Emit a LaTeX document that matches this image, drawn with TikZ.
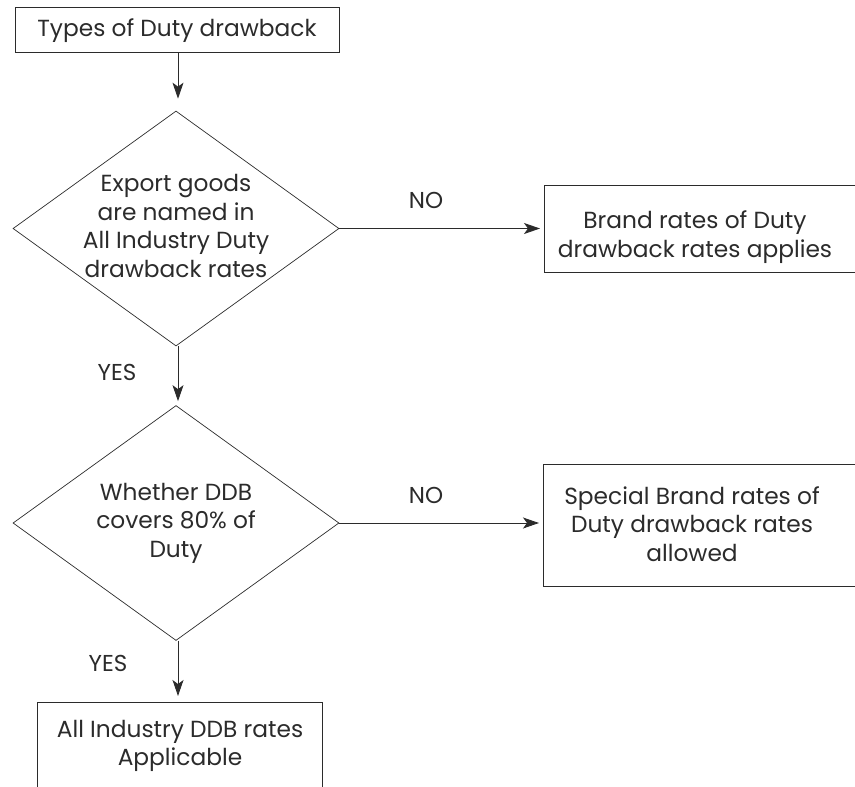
\documentclass[tikz,border=0pt]{standalone}
\usepackage{fontspec}
\setmainfont{Poppins}
\usetikzlibrary{arrows.meta,positioning,shapes.geometric}
\definecolor{ink}{HTML}{2B2B2B}
\tikzset{
  >=Stealth,
  box/.style={rectangle, draw=ink, line width=0.9pt, inner sep=0pt},
  dec/.style={diamond, draw=ink, line width=0.7pt, inner sep=0pt, minimum width=326pt, minimum height=235pt},
  txt/.style={align=center, text=ink, inner sep=0pt, font=\fontsize{23.3}{28.5}\selectfont},
  lbl/.style={text=ink, inner sep=0pt, font=\fontsize{23}{26}\selectfont},
  flow/.style={-{Stealth[length=16pt, width=11pt, inset=4pt]}, draw=ink, line width=0.9pt}
}

\begin{document}
\begin{tikzpicture}[x=1pt, y=-1pt]
    \useasboundingbox (0,0) rectangle (855,787);
    \clip (0,0) rectangle (855,787);

    % --- Start box ---
    \node[box, minimum width=324pt, minimum height=45pt] (start) at (177,29.5) {};
    \node[txt] (starttxt) at (177,31) {Types of Duty drawback};

    % --- First decision ---
    \node[dec] (d1) at (176,228.5) {};
    \node[txt] (d1txt) at (176,226) {Export goods\\are named in\\All Industry Duty\\drawback rates};

    % --- Brand rates box (runs off the right edge) ---
    \node[box, anchor=north west, minimum width=340pt, minimum height=87pt] (brand) at (544,185) {};
    \node[txt] (brandtxt) at (695,237) {Brand rates of Duty\\drawback rates applies};

    % --- Second decision ---
    \node[dec] (d2) at (176,523) {};
    \node[txt] (d2txt) at (176,523) {Whether DDB\\covers 80\% of\\Duty};

    % --- Special brand rates box ---
    \node[box, anchor=north west, minimum width=340pt, minimum height=122pt] (special) at (543,464) {};
    \node[txt] (specialtxt) at (692,524) {Special Brand rates of\\Duty drawback rates\\allowed};

    % --- All Industry box (runs off the bottom edge) ---
    \node[box, anchor=north west, minimum width=285pt, minimum height=110pt] (allind) at (37,702) {};
    \node[txt] (allindtxt) at (180,746) {All Industry DDB rates\\Applicable};

    % --- Connectors ---
    \draw[flow, shorten >=12pt] (start.south -| 178,0) -- (d1.north -| 178,0);
    \draw[flow, shorten >=4pt] (d1.south -| 178,0) -- (d2.north -| 178,0);
    \draw[flow, shorten >=6pt] (d2.south -| 178,0) -- (allind.north -| 178,0);
    \draw[flow, shorten >=4pt] (d1.east) -- (brand.west |- d1.east);
    \draw[flow, shorten >=4pt] (d2.east) -- (special.west |- d2.east);

    % --- Branch labels ---
    \node[lbl] (no1) at (426,200) {NO};
    \node[lbl] (no2) at (426,495) {NO};
    \node[lbl] (yes1) at (117,372) {YES};
    \node[lbl] (yes2) at (108,663) {YES};
\end{tikzpicture}
\end{document}
